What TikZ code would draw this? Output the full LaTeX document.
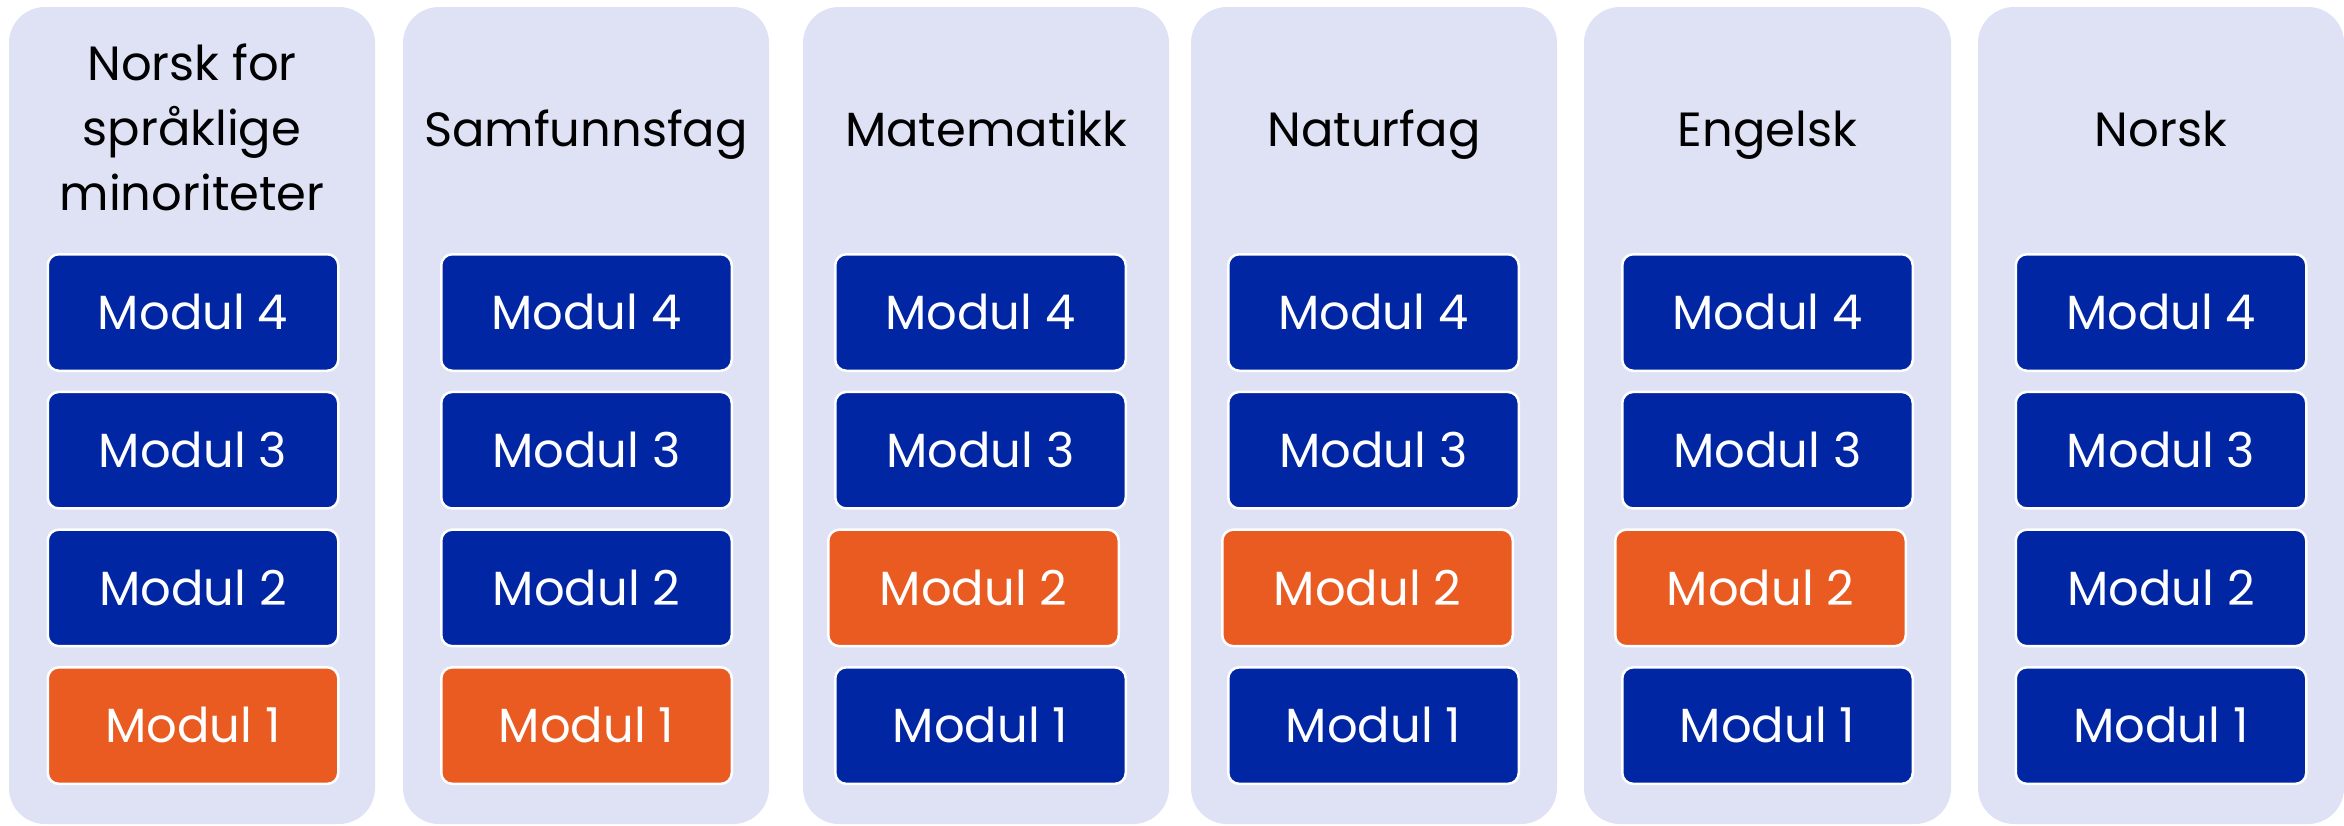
\documentclass[tikz,border=0pt]{standalone}
\usepackage{fontspec}
\setmainfont{Poppins}
\definecolor{lav}{HTML}{DFE1F5}
\definecolor{modblue}{HTML}{0026A3}
\definecolor{modorange}{HTML}{E95B21}
\begin{document}
\begin{tikzpicture}[x=1pt,y=-1pt,
  colbox/.style={fill=lav, rounded corners=36pt},
  modbox/.style={draw=white, line width=2.5pt, rounded corners=11pt,
    minimum width=290.5pt, minimum height=116.5pt, inner sep=0pt,
    text=white, font=\fontsize{48}{60}\selectfont,
    text height=34.5pt, text depth=0pt},
  bluebox/.style={modbox, fill=modblue},
  orangebox/.style={modbox, fill=modorange},
  header/.style={font=\fontsize{48}{65}\selectfont, align=center, anchor=base, inner sep=0pt}]
\useasboundingbox (0,0) rectangle (2344,825);
% columns
\path[colbox] (9,7) rectangle (375,824);
\path[colbox] (403,7) rectangle (769,824);
\path[colbox] (803,7) rectangle (1169,824);
\path[colbox] (1191,7) rectangle (1557,824);
\path[colbox] (1584,7) rectangle (1951,824);
\path[colbox] (1978,7) rectangle (2344,824);
% headers
\node[header] (h1) at (192,210.7) {Norsk for\\språklige\\minoriteter};
\node[header] (h2) at (586,146.7) {Samfunnsfag};
\node[header] (h3) at (986,146.7) {Matematikk};
\node[header] (h4) at (1374,146.7) {Naturfag};
\node[header] (h5) at (1767.5,146.7) {Engelsk};
\node[header] (h6) at (2161,146.7) {Norsk};
% column 1
\node[bluebox] (c1m4) at (193,312.5) {Modul 4};
\node[bluebox] (c1m3) at (193,450.2) {Modul 3};
\node[bluebox] (c1m2) at (193,587.9) {Modul 2};
\node[orangebox] (c1m1) at (193,725.6) {Modul 1};
% column 2
\node[bluebox] (c2m4) at (586.5,312.5) {Modul 4};
\node[bluebox] (c2m3) at (586.5,450.2) {Modul 3};
\node[bluebox] (c2m2) at (586.5,587.9) {Modul 2};
\node[orangebox] (c2m1) at (586.5,725.6) {Modul 1};
% column 3
\node[bluebox] (c3m4) at (980.5,312.5) {Modul 4};
\node[bluebox] (c3m3) at (980.5,450.2) {Modul 3};
\node[orangebox] (c3m2) at (973.5,587.9) {Modul 2};
\node[bluebox] (c3m1) at (980.5,725.6) {Modul 1};
% column 4
\node[bluebox] (c4m4) at (1373.5,312.5) {Modul 4};
\node[bluebox] (c4m3) at (1373.5,450.2) {Modul 3};
\node[orangebox] (c4m2) at (1367.5,587.9) {Modul 2};
\node[bluebox] (c4m1) at (1373.5,725.6) {Modul 1};
% column 5
\node[bluebox] (c5m4) at (1767.5,312.5) {Modul 4};
\node[bluebox] (c5m3) at (1767.5,450.2) {Modul 3};
\node[orangebox] (c5m2) at (1760.5,587.9) {Modul 2};
\node[bluebox] (c5m1) at (1767.5,725.6) {Modul 1};
% column 6
\node[bluebox] (c6m4) at (2161,312.5) {Modul 4};
\node[bluebox] (c6m3) at (2161,450.2) {Modul 3};
\node[bluebox] (c6m2) at (2161,587.9) {Modul 2};
\node[bluebox] (c6m1) at (2161,725.6) {Modul 1};
\end{tikzpicture}
\end{document}
